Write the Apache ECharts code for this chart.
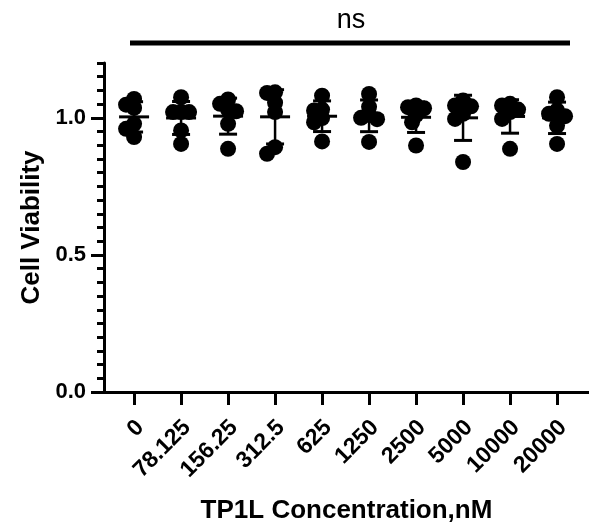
<!DOCTYPE html>
<html>
<head>
<meta charset="utf-8">
<script src="https://cdn.jsdelivr.net/npm/echarts@6/dist/echarts.min.js"></script>
<style>
  html, body { margin: 0; padding: 0; background: #fff; }
  #main { width: 589px; height: 529px; }
</style>
</head>
<body>
<div id="main"></div>
<script>
// TP1L concentrations (nM) on the x axis
var concentrations = ['0', '78.125', '156.25', '312.5', '625', '1250', '2500', '5000', '10000', '20000'];

// cell viability, 6 replicates per concentration
var via0     = [1.069, 1.048, 1.036, 0.978, 0.960, 0.930];
var via78    = [1.075, 1.021, 1.021, 1.021, 0.954, 0.905];
var via156   = [1.067, 1.051, 1.030, 1.024, 0.978, 0.887];
var via312   = [1.093, 1.091, 1.055, 1.021, 0.893, 0.869];
var via625   = [1.081, 1.030, 1.027, 0.999, 0.984, 0.914];
var via1250  = [1.087, 1.040, 1.010, 1.000, 0.995, 0.912];
var via2500  = [1.045, 1.039, 1.035, 1.010, 0.984, 0.899];
var via5000  = [1.063, 1.045, 1.042, 1.015, 0.996, 0.839];
var via10000 = [1.051, 1.045, 1.030, 1.021, 0.996, 0.887];
var via20000 = [1.075, 1.027, 1.015, 1.006, 0.972, 0.905];

var yMajor = [0, 0.5, 1.0];
var yMinorStep = 0.05;

var groups = [via0, via78, via156, via312, via625, via1250, via2500, via5000, via10000, via20000];

// layout
var GRID = { left: 104, right: 0, top: 63, bottom: 135 };
var X_MIN = -0.64, X_MAX = 9.68, Y_MAX = 1.2;
var W = 589, H = 529;
var pxX = (W - GRID.left - GRID.right) / (X_MAX - X_MIN);
var pxY = (H - GRID.top - GRID.bottom) / Y_MAX;
var DOT = 16, STEP = 4, MIN_DIST = 8;
var LABEL_SHIFT = 0.13; // rotated labels sit a bit right of their tick
var FONT = 'Liberation Sans, Arial, sans-serif';

function mean(a) {
    var s = 0;
    a.forEach(function (v) { s += v; });
    return s / a.length;
}
function sd(a) {
    var m = mean(a), s = 0;
    a.forEach(function (v) { s += (v - m) * (v - m); });
    return Math.sqrt(s / (a.length - 1));
}

// simple beeswarm: spread points sideways so they don't pile up
function swarm(vals) {
    var placed = [], out = [];
    var order = vals.map(function (v, k) { return k; })
        .sort(function (a, b) { return vals[b] - vals[a]; });
    order.forEach(function (k) {
        var py = vals[k] * pxY;
        for (var n = 0; n < 40; n++) {
            var off = (n % 2 ? -1 : 1) * Math.ceil(n / 2) * STEP;
            var ok = placed.every(function (p) {
                return Math.hypot(p[0] - off, p[1] - py) >= MIN_DIST;
            });
            if (ok) { placed.push([off, py]); out[k] = off; break; }
        }
    });
    return out;
}

var points = [];
var bars = [];
groups.forEach(function (vals, i) {
    var offs = swarm(vals);
    vals.forEach(function (v, k) {
        points.push([i + offs[k] / pxX, v]);
    });
    bars.push([i, mean(vals), sd(vals)]);
});

var minorTicks = [];
for (var t = yMinorStep; t <= Y_MAX + 1e-9; t += yMinorStep) {
    var r = Math.round(t * 100) / 100;
    if (yMajor.indexOf(r) < 0) minorTicks.push(r);
}
var catTicks = concentrations.map(function (c, i) { return i; });
var catLabels = catTicks.map(function (i) { return i + LABEL_SHIFT; });

var myChart = echarts.init(document.getElementById('main'));
myChart.setOption({
    animation: false,
    backgroundColor: '#fff',
    grid: GRID,
    xAxis: {
        type: 'value',
        min: X_MIN,
        max: X_MAX,
        splitLine: { show: false },
        axisLine: { show: true, onZero: false, lineStyle: { color: '#000', width: 3 } },
        axisTick: { show: true, length: 13, customValues: catTicks, lineStyle: { color: '#000', width: 3 } },
        axisLabel: {
            customValues: catLabels,
            formatter: function (v) { return concentrations[Math.round(v)]; },
            rotate: 45,
            margin: 32,
            color: '#000',
            fontSize: 23,
            fontWeight: 'bold',
            fontFamily: FONT
        },
        name: 'TP1L Concentration,nM',
        nameLocation: 'middle',
        nameGap: 106,
        nameTextStyle: { color: '#000', fontSize: 26, fontWeight: 'bold', fontFamily: FONT }
    },
    yAxis: [
        {
            type: 'value',
            min: 0,
            max: Y_MAX,
            splitLine: { show: false },
            axisLine: { show: true, onZero: false, lineStyle: { color: '#000', width: 3 } },
            axisTick: { show: true, length: 13, customValues: yMajor, lineStyle: { color: '#000', width: 3 } },
            axisLabel: {
                customValues: yMajor,
                formatter: function (v) { return v.toFixed(1); },
                margin: 18,
                color: '#000',
                fontSize: 22,
                fontWeight: 'bold',
                fontFamily: FONT
            },
            name: 'Cell Viability',
            nameLocation: 'middle',
            nameGap: 59,
            nameTextStyle: { color: '#000', fontSize: 26, fontWeight: 'bold', fontFamily: FONT }
        },
        {
            // minor ticks only
            type: 'value',
            min: 0,
            max: Y_MAX,
            position: 'left',
            splitLine: { show: false },
            axisLine: { show: false, onZero: false },
            axisTick: { show: true, length: 7, customValues: minorTicks, lineStyle: { color: '#000', width: 3 } },
            axisLabel: { show: false }
        }
    ],
    series: [
        {
            type: 'scatter',
            data: points,
            symbol: 'circle',
            symbolSize: DOT,
            itemStyle: { color: '#000', opacity: 1 },
            z: 2
        },
        {
            type: 'custom',
            data: bars,
            z: 3,
            renderItem: function (params, api) {
                var x = api.value(0), m = api.value(1), s = api.value(2);
                var pm = api.coord([x, m]);
                var pu = api.coord([x, m + s]);
                var pl = api.coord([x, m - s]);
                var st = { stroke: '#000', lineWidth: 3 };
                return {
                    type: 'group',
                    children: [
                        { type: 'line', shape: { x1: pm[0], y1: pu[1], x2: pm[0], y2: pl[1] }, style: { stroke: '#000', lineWidth: 2.5 } },
                        { type: 'line', shape: { x1: pm[0] - 15, y1: pm[1], x2: pm[0] + 15, y2: pm[1] }, style: st },
                        { type: 'line', shape: { x1: pm[0] - 9, y1: pu[1], x2: pm[0] + 9, y2: pu[1] }, style: st },
                        { type: 'line', shape: { x1: pm[0] - 9, y1: pl[1], x2: pm[0] + 9, y2: pl[1] }, style: st }
                    ]
                };
            }
        }
    ],
    graphic: [
        { type: 'line', shape: { x1: 130, y1: 43, x2: 570, y2: 43 }, style: { stroke: '#000', lineWidth: 5 } },
        {
            type: 'text', x: 351, y: 34,
            style: { text: 'ns', fill: '#000', font: '27px ' + FONT, textAlign: 'center', textVerticalAlign: 'bottom' }
        }
    ]
});
</script>
</body>
</html>
